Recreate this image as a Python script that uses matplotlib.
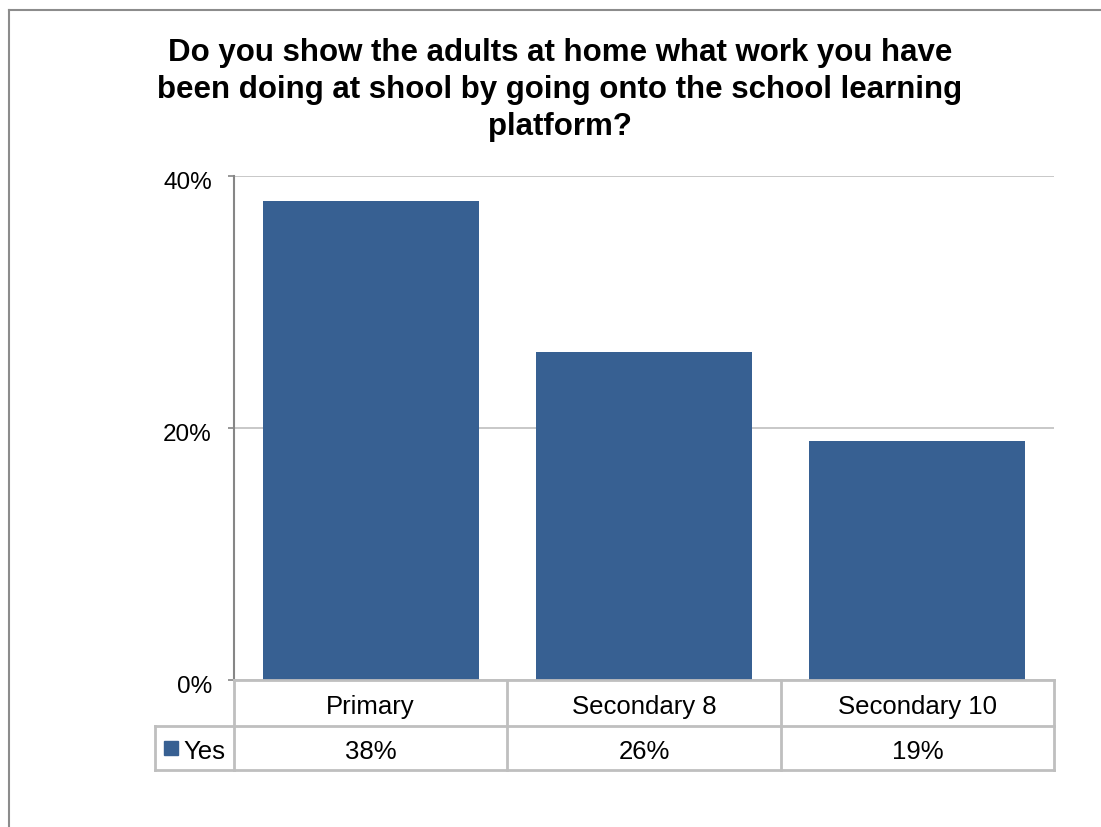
import matplotlib.pyplot as plt
import matplotlib.transforms as mtransforms
from matplotlib.lines import Line2D
from matplotlib.patches import Rectangle

plt.rcParams['font.family'] = ['Liberation Sans', 'DejaVu Sans']

# survey results
categories = ['Primary', 'Secondary 8', 'Secondary 10']
yes_pct = [38, 26, 19]
series_name = 'Yes'
y_ticks = [0, 20, 40]

title = ('Do you show the adults at home what work you have\n'
         'been doing at shool by going onto the school learning\n'
         'platform?')

bar_color = '#376092'
line_gray = '#BFBFBF'
axis_gray = '#868686'

fig = plt.figure(figsize=(11.01, 8.28), dpi=100)
W, H = 1101, 828

# outer chart frame (only left and top edges fall inside the image)
fig.add_artist(Line2D([9 / W, 9 / W], [0, 1 - 11 / H], transform=fig.transFigure,
                      color='#8C8C8C', lw=1.5))
fig.add_artist(Line2D([9 / W, 1], [1 - 11 / H, 1 - 11 / H], transform=fig.transFigure,
                      color='#8C8C8C', lw=1.5))

ax_l, ax_r, ax_t, ax_b = 234, 1054, 177, 681
ax = fig.add_axes([ax_l / W, 1 - ax_b / H, (ax_r - ax_l) / W, (ax_b - ax_t) / H])

x = range(len(categories))
ax.bar(x, yes_pct, width=0.79, color=bar_color, zorder=3)
ax.set_xlim(-0.5, len(categories) - 0.5)
ax.set_ylim(0, 40)
ax.set_yticks(y_ticks)
ax.set_yticklabels([f'{v}%' for v in y_ticks])
ax.set_xticks([])
ax.tick_params(axis='y', length=4.5, width=1.2, color=axis_gray, labelsize=17.5, pad=11.5)
ax.yaxis.grid(True, color=line_gray, lw=1.2, zorder=0)
for side in ['top', 'right', 'bottom']:
    ax.spines[side].set_visible(False)
ax.spines['left'].set_color(axis_gray)
ax.spines['left'].set_linewidth(1.5)
ax.spines['left'].set_zorder(4)

# y labels sit slightly below their tick marks
down = mtransforms.ScaledTranslation(0, -4 / 100, fig.dpi_scale_trans)
for lbl in ax.get_yticklabels():
    lbl.set_transform(lbl.get_transform() + down)

fig.text(560 / W, 1 - 38 / H, title, ha='center', va='top', fontsize=22.5,
         fontweight='bold', linespacing=1.3)

# data table under the plot
row_h = 46 / (ax_b - ax_t)
row2_h = 44 / (ax_b - ax_t)
legend_left = -(ax_l - 155) / (ax_r - ax_l)
tr = ax.get_xaxis_transform()
y0, y1, y2 = 0, -row_h, -row_h - row2_h
tkw = dict(color=line_gray, lw=2, clip_on=False, zorder=5)

ax.plot([-0.5, 2.5], [y0, y0], transform=tr, **tkw)
ax.plot([-0.5, 2.5], [y1, y1], transform=tr, **tkw)
ax.plot([-0.5, 2.5], [y2, y2], transform=tr, **tkw)
ax.plot([legend_left, 0], [y1, y1], transform=ax.transAxes, **tkw)
ax.plot([legend_left, 0], [y2, y2], transform=ax.transAxes, **tkw)
ax.plot([legend_left, legend_left], [y1, y2], transform=ax.transAxes, **tkw)
for b in [-0.5, 0.5, 1.5, 2.5]:
    ax.plot([b, b], [y0, y2], transform=tr, **tkw)

txt_down = 3 / (ax_b - ax_t)
for i, (cat, v) in enumerate(zip(categories, yes_pct)):
    ax.text(i, (y0 + y1) / 2 - txt_down, cat, transform=tr, ha='center',
            va='center', fontsize=18.5)
    ax.text(i, (y1 + y2) / 2 - txt_down, f'{v}%', transform=tr, ha='center',
            va='center', fontsize=18.5)

# legend key in the first column
key_w = 14 / (ax_r - ax_l)
key_h = 14 / (ax_b - ax_t)
ax.add_patch(Rectangle((legend_left + 9 / (ax_r - ax_l), (y1 + y2) / 2 - key_h / 2),
                       key_w, key_h, transform=ax.transAxes, color=bar_color,
                       clip_on=False))
ax.text(legend_left + 28 / (ax_r - ax_l), (y1 + y2) / 2 - txt_down, series_name,
        transform=ax.transAxes, ha='left', va='center', fontsize=18.5)

fig.savefig('out.png', dpi=100, facecolor='white')
